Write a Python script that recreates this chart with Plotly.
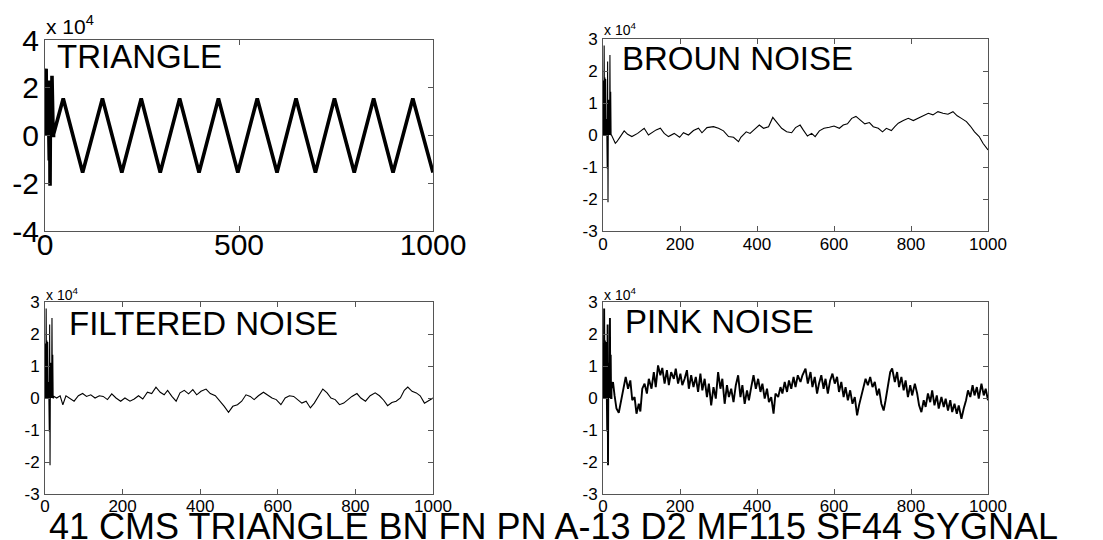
import plotly.graph_objects as go

# ---------------- data (values in units of 1e4) ----------------
spike_x = [0, 1, 2, 3, 4, 5, 6, 7, 8, 9, 10, 11, 12, 13, 14, 15, 16, 17, 18, 19, 20, 21, 22]
spike_y = [0, 1.7, 0, 2.8, 0, 1.8, 0, 1.75, 0, 0.5, 0, -1.05, 2.3, -2.1, 1.1, 0, 1.1, 0, 2.5, 0, 1.35, 0, 0]

triangle = [(22, 0.05), (47, 1.55), (97, -1.55), (148, 1.55), (198, -1.55), (248, 1.55),
            (297, -1.55), (347, 1.55), (397, -1.55), (447, 1.55), (497, -1.55), (547, 1.55),
            (598, -1.55), (647, 1.55), (697, -1.55), (746, 1.55), (797, -1.55), (847, 1.55),
            (897, -1.55), (948, 1.55), (1000, -1.55)]

broun = [(22, 0), (32, -0.26), (36, -0.21), (45, -0.05), (55, 0.13), (64, 0.02), (75, -0.05),
         (90, 0.05), (107, 0.21), (118, 0), (127, 0.08), (138, 0.16), (149, 0.21), (159, 0.05),
         (170, -0.05), (185, 0.05), (199, -0.07), (209, 0.07), (222, 0), (235, 0.14), (248, 0.21),
         (257, 0.07), (270, 0.23), (287, 0.26), (300, 0.21), (313, 0.13), (326, -0.05), (339, -0.07),
         (352, -0.21), (358, -0.07), (372, 0.1), (382, 0.05), (392, 0.16), (406, 0.31), (417, 0.21),
         (430, 0.26), (441, 0.55), (451, 0.39), (464, 0.21), (477, 0.1), (490, 0.07), (500, 0.23),
         (512, 0.31), (520, 0.16), (531, -0.03), (542, 0.05), (551, -0.05), (562, 0.13), (574, 0.21),
         (588, 0.24), (600, 0.28), (614, 0.21), (624, 0.31), (635, 0.35), (646, 0.52), (657, 0.58),
         (669, 0.47), (680, 0.35), (692, 0.39), (702, 0.26), (715, 0.21), (726, 0.1), (736, 0.21),
         (749, 0.14), (758, 0.26), (767, 0.37), (780, 0.45), (793, 0.52), (806, 0.45), (818, 0.52),
         (831, 0.58), (845, 0.68), (857, 0.63), (870, 0.73), (883, 0.68), (896, 0.65), (909, 0.73),
         (920, 0.6), (931, 0.52), (944, 0.42), (954, 0.28), (965, 0.1), (977, -0.05), (987, -0.26),
         (1000, -0.47)]

filtered = [(23, 0.05), (30, 0), (39, 0.07), (46, -0.21), (54, 0.07), (64, 0), (75, -0.1), (86, 0.07),
            (97, 0.14), (107, 0.05), (118, 0.1), (129, 0), (140, 0.07), (150, 0.05), (161, -0.05),
            (172, 0.13), (183, 0), (195, -0.1), (206, 0), (219, -0.1), (230, -0.03), (241, 0.07),
            (252, -0.03), (264, 0.18), (275, 0.14), (286, 0.34), (297, 0.18), (307, 0.1), (316, 0.24),
            (327, 0.05), (338, -0.1), (348, 0.16), (359, 0.24), (370, 0.13), (381, 0.26), (391, 0.1),
            (402, 0.21), (415, 0.28), (426, 0.14), (439, 0.07), (451, -0.1), (462, -0.26), (473, -0.45),
            (484, -0.26), (496, -0.21), (507, -0.1), (518, 0.1), (529, 0.05), (539, -0.05), (550, 0.07),
            (563, 0.18), (574, 0.1), (585, 0), (596, -0.05), (608, -0.21), (619, 0), (630, 0.07),
            (641, 0.05), (651, -0.05), (662, -0.16), (673, -0.1), (684, -0.31), (694, -0.16), (705, 0.05),
            (716, 0.28), (727, 0.16), (737, 0), (748, -0.05), (759, -0.21), (770, -0.16), (780, -0.05),
            (791, 0.05), (804, 0.14), (814, 0), (826, -0.1), (838, 0.07), (851, 0.16), (862, 0.07),
            (873, -0.07), (883, -0.24), (894, -0.14), (905, -0.1), (916, 0), (926, 0.24), (935, 0.34),
            (946, 0.21), (957, 0.16), (967, 0.07), (978, -0.16), (989, -0.07), (1000, 0)]

pink = [(22, 0.29), (26, 0.5), (30, 0.08), (35, -0.33), (41, -0.46), (46, -0.13), (52, 0.19), (59, 0.66),
        (65, 0.29), (71, 0.55), (76, -0.07), (82, 0.03), (87, -0.49), (93, -0.18), (97, -0.42), (102, 0.29),
        (108, 0.45), (114, 0.14), (119, 0.6), (126, 0.29), (132, 0.81), (137, 0.34), (143, 1.02), (149, 0.71),
        (154, 0.94), (160, 0.45), (166, 0.87), (171, 0.4), (177, 0.81), (184, 0.6), (189, 0.92), (195, 0.45),
        (201, 0.76), (206, 0.4), (212, 0.6), (218, 0.87), (223, 0.29), (229, 0.71), (235, 0.34), (241, 0.66),
        (247, 0.19), (253, 0.76), (258, 0.24), (264, 0.6), (270, 0.03), (275, 0.45), (281, -0.23), (287, 0.34),
        (293, -0.02), (299, 0.81), (305, 0.29), (310, 0.6), (316, -0.18), (322, 0.4), (327, 0.03), (333, 0.29),
        (339, -0.13), (345, 0.4), (351, 0.71), (357, 0.03), (362, 0.4), (368, -0.18), (374, 0.24), (379, -0.07),
        (385, 0.34), (391, 0.71), (397, 0.29), (403, 0.6), (409, 0.19), (414, 0.45), (420, -0.02), (426, 0.29),
        (431, -0.13), (437, 0.03), (443, -0.49), (448, 0.14), (455, 0.03), (461, 0.34), (466, 0.14), (472, 0.5),
        (478, 0.19), (483, 0.55), (489, 0.29), (495, 0.66), (500, 0.34), (506, 0.71), (513, 0.5), (518, 0.71),
        (526, 0.92), (532, 0.45), (539, 0.81), (544, 0.34), (550, 0.66), (556, 0.14), (561, 0.45), (567, 0.71),
        (573, 0.29), (578, 0.6), (584, 0.14), (590, 0.55), (596, 0.76), (602, 0.45), (608, 0.66), (613, 0.19),
        (619, 0.5), (625, 0.03), (630, 0.34), (636, -0.07), (642, 0.24), (648, -0.18), (654, 0.03), (660, -0.54),
        (665, -0.23), (671, 0.08), (677, 0.4), (682, 0.6), (688, 0.4), (694, 0.66), (700, 0.34), (706, 0.5),
        (712, 0.08), (717, 0.29), (723, -0.18), (729, -0.39), (734, -0.07), (740, 0.4), (746, 0.81), (751, 0.92),
        (758, 0.5), (764, 0.81), (769, 0.34), (775, 0.66), (781, 0.24), (786, 0.55), (792, 0.03), (798, 0.4),
        (803, 0.08), (810, 0.45), (816, 0.14), (821, -0.23), (827, -0.44), (833, -0.07), (838, -0.28), (844, 0.14),
        (850, -0.13), (855, 0.24), (861, -0.23), (867, 0.08), (872, -0.33), (879, 0.03), (885, -0.28), (890, -0.02),
        (896, -0.39), (902, -0.07), (907, -0.44), (913, -0.18), (919, -0.49), (924, -0.23), (931, -0.65),
        (937, -0.33), (943, -0.07), (948, 0.24), (954, 0.03), (960, 0.4), (965, 0.08), (971, 0.34), (976, -0.02),
        (983, 0.45), (989, 0.08), (994, 0.29), (1000, -0.07)]

titles = ["TRIANGLE", "BROUN NOISE", "FILTERED NOISE", "PINK NOISE"]
caption = "41 CMS TRIANGLE BN FN PN A-13 D2 MF115 SF44 SYGNAL"

tl_xticks = [0, 500, 1000]
tl_yticks = [-4, -2, 0, 2, 4]
sm_xticks = [0, 200, 400, 600, 800, 1000]
sm_yticks = [-3, -2, -1, 0, 1, 2, 3]

# ---------------- figure ----------------
# The page body has an 8px default margin, so the figure is sized to fit the window
OFF = 8
W, H = 1103 - OFF, 540 - OFF
FONT = "Liberation Sans, Arial, Helvetica, sans-serif"


def px_x(p):
    return (p - OFF) / W


def px_y(p):
    return 1 - (p - OFF) / H


panels = [
    # (series, xaxis id, yaxis id, line width)
    (triangle, "x", "y", 3.6),
    (broun, "x2", "y2", 1.1),
    (filtered, "x3", "y3", 1.1),
    (pink, "x4", "y4", 1.9),
]

fig = go.Figure()
for series, xa, ya, lw in panels:
    sx = spike_x + [p[0] for p in series]
    sy = spike_y + [p[1] for p in series]
    fig.add_trace(go.Scatter(x=sx, y=sy, mode="lines", xaxis=xa, yaxis=ya,
                             line=dict(color="black", width=lw), showlegend=False,
                             hoverinfo="skip"))


def ax(domain, rng, ticks, fsize, standoff, anchor):
    return dict(domain=domain, range=rng, tickvals=ticks, ticktext=[str(t) for t in ticks],
                anchor=anchor,
                showline=True, linecolor="#555", linewidth=1, mirror="ticks",
                ticks="inside", ticklen=5, tickcolor="#555", showgrid=False, zeroline=False,
                automargin=False, fixedrange=True, ticklabelstandoff=standoff,
                tickfont=dict(family=FONT, size=fsize, color="black"))


# pixel boxes in the window (left, right, top, bottom)
boxes = {
    "tl": (45, 433, 40, 231),
    "tr": (603, 988, 39, 231),
    "bl": (45, 433, 302, 494),
    "br": (603, 988, 302, 494),
}


def dx(b):
    return [px_x(b[0]), px_x(b[1])]


def dy(b):
    return [px_y(b[3]), px_y(b[2])]


fig.update_layout(
    width=W, height=H, autosize=False,
    margin=dict(l=0, r=0, t=0, b=0),
    paper_bgcolor="white", plot_bgcolor="white",
    xaxis=ax(dx(boxes["tl"]), [0, 1000], tl_xticks, 30, -13, "y"),
    yaxis=ax(dy(boxes["tl"]), [-4, 4], tl_yticks, 30, -1, "x"),
    xaxis2=ax(dx(boxes["tr"]), [0, 1000], sm_xticks, 17, -2, "y2"),
    yaxis2=ax(dy(boxes["tr"]), [-3, 3], sm_yticks, 17, 1, "x2"),
    xaxis3=ax(dx(boxes["bl"]), [0, 1000], sm_xticks, 17, -3, "y3"),
    yaxis3=ax(dy(boxes["bl"]), [-3, 3], sm_yticks, 17, 1, "x3"),
    xaxis4=ax(dx(boxes["br"]), [0, 1000], sm_xticks, 17, -3, "y4"),
    yaxis4=ax(dy(boxes["br"]), [-3, 3], sm_yticks, 17, 1, "x4"),
)

annotations = []
# panel titles
title_pos = [(55, 56, 33), (620, 58, 33), (67, 323, 33), (623, 321, 33)]
for t, (x, y, s) in zip(titles, title_pos):
    annotations.append(dict(text=t, x=px_x(x), y=px_y(y), xref="paper", yref="paper",
                            xanchor="left", yanchor="middle", showarrow=False,
                            font=dict(family=FONT, size=s, color="black")))
# exponent labels
exp_pos = [(44, 25, 21), (602, 29, 14), (44, 294, 14), (602, 294, 14)]
for x, y, s in exp_pos:
    annotations.append(dict(text="x 10<sup>4</sup>", x=px_x(x), y=px_y(y), xref="paper", yref="paper",
                            xanchor="left", yanchor="middle", showarrow=False,
                            font=dict(family=FONT, size=s, color="black")))
# caption
annotations.append(dict(text=caption, x=px_x(553), y=px_y(526), xref="paper", yref="paper",
                        xanchor="center", yanchor="middle", showarrow=False,
                        font=dict(family=FONT, size=36, color="black")))
fig.update_layout(annotations=annotations)

fig.write_html("out.html")
